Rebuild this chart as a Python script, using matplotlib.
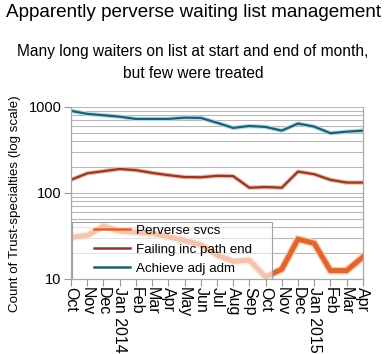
import numpy as np
import matplotlib
matplotlib.use("Agg")
import matplotlib.pyplot as plt
import matplotlib.patheffects as pe
from matplotlib.patches import Rectangle
from matplotlib.ticker import FixedLocator, NullFormatter

plt.rcParams['font.family'] = ['Liberation Sans', 'DejaVu Sans']

months = ["Oct", "Nov", "Dec", "Jan 2014", "Feb", "Mar", "Apr", "May", "Jun", "Jul",
          "Aug", "Sep", "Oct", "Nov", "Dec", "Jan 2015", "Feb", "Mar", "Apr"]
perverse = [30.5, 32, 41, 36, 35, 34, 31, 28, 25, 19, 16, 16.5, 10.5, 13, 29, 26, 12.5, 12.5, 18]
failing = [142, 169, 179, 190, 184, 171, 161, 153, 152, 158, 157, 115, 117, 115, 177, 165, 142, 132, 132]
achieve = [900, 830, 800, 770, 725, 725, 725, 750, 745, 655, 570, 600, 585, 530, 640, 590, 495, 515, 530]

x = np.arange(len(months))

fig = plt.figure(figsize=(3.86, 3.54), dpi=100)
ax = fig.add_axes([0.184, 0.212, 0.756, 0.486])

ax.plot(x, perverse, color="#E2652E", lw=3.6, label="Perverse svcs", solid_joinstyle="miter",
        path_effects=[pe.Stroke(linewidth=5.5, foreground="#F9CDA8"), pe.Normal()])
ax.plot(x, failing, color="#8E3A25", lw=1.6, label="Failing inc path end",
        path_effects=[pe.Stroke(linewidth=3.2, foreground="#F3B9A8"), pe.Normal()])
ax.plot(x, achieve, color="#215E73", lw=1.6, label="Achieve adj adm",
        path_effects=[pe.Stroke(linewidth=3.2, foreground="#B5DDEA"), pe.Normal()])

ax.set_yscale("log")
ax.set_ylim(10, 1000)
ax.set_xlim(0, len(months) - 1)
ax.set_yticks([10, 100, 1000])
ax.set_yticklabels(["10", "100", "1000"], fontsize=10.5)
minors = [m * 10 ** d for d in (1, 2) for m in range(2, 10)]
ax.yaxis.set_minor_locator(FixedLocator(minors))
ax.yaxis.set_minor_formatter(NullFormatter())
ax.tick_params(axis="y", which="minor", length=0)
ax.tick_params(axis="y", which="major", length=5, color="#999999", pad=2)
ax.grid(True, axis="y", which="both", color="#B8B8B8", lw=0.8)
ax.set_axisbelow(True)

ax.set_xticks(x)
ax.set_xticklabels(months, rotation=-90, fontsize=11.5, va="top", ha="center")
ax.tick_params(axis="x", length=5, color="#999999", pad=1)

for s in ax.spines.values():
    s.set_color("#A8A8A8")
    s.set_linewidth(0.9)
ax.spines["top"].set_visible(False)

# semi-transparent legend box, drawn separately so it can be wider than its entries
ax.add_patch(Rectangle((0.003, 0.0), 0.685, 0.331, transform=ax.transAxes, facecolor="white",
                       alpha=0.62, edgecolor="none", zorder=4))
ax.add_patch(Rectangle((0.003, 0.0), 0.685, 0.331, transform=ax.transAxes, facecolor="none",
                       edgecolor="#A0A0A0", lw=0.8, zorder=4.1))

leg = ax.legend(loc="lower left", bbox_to_anchor=(0.065, 0.0), borderaxespad=0,
                fontsize=9.6, handlelength=2.7, handletextpad=0.45, labelspacing=0.5,
                borderpad=0.3, frameon=False)
leg.set_zorder(5)
for h in leg.get_lines():
    h.set_linewidth(1.8)
    h.set_path_effects([])

fig.text(0.5, 0.965, "Apparently perverse waiting list management", ha="center", va="center", fontsize=13.6)
fig.text(0.5, 0.855, "Many long waiters on list at start and end of month,", ha="center", va="center", fontsize=11.2)
fig.text(0.5, 0.793, "but few were treated", ha="center", va="center", fontsize=11.2)
fig.text(0.04, 0.425, "Count of Trust-specialties (log scale)", rotation=90, ha="center", va="center", fontsize=9.6)

fig.savefig("out.png", dpi=100)
